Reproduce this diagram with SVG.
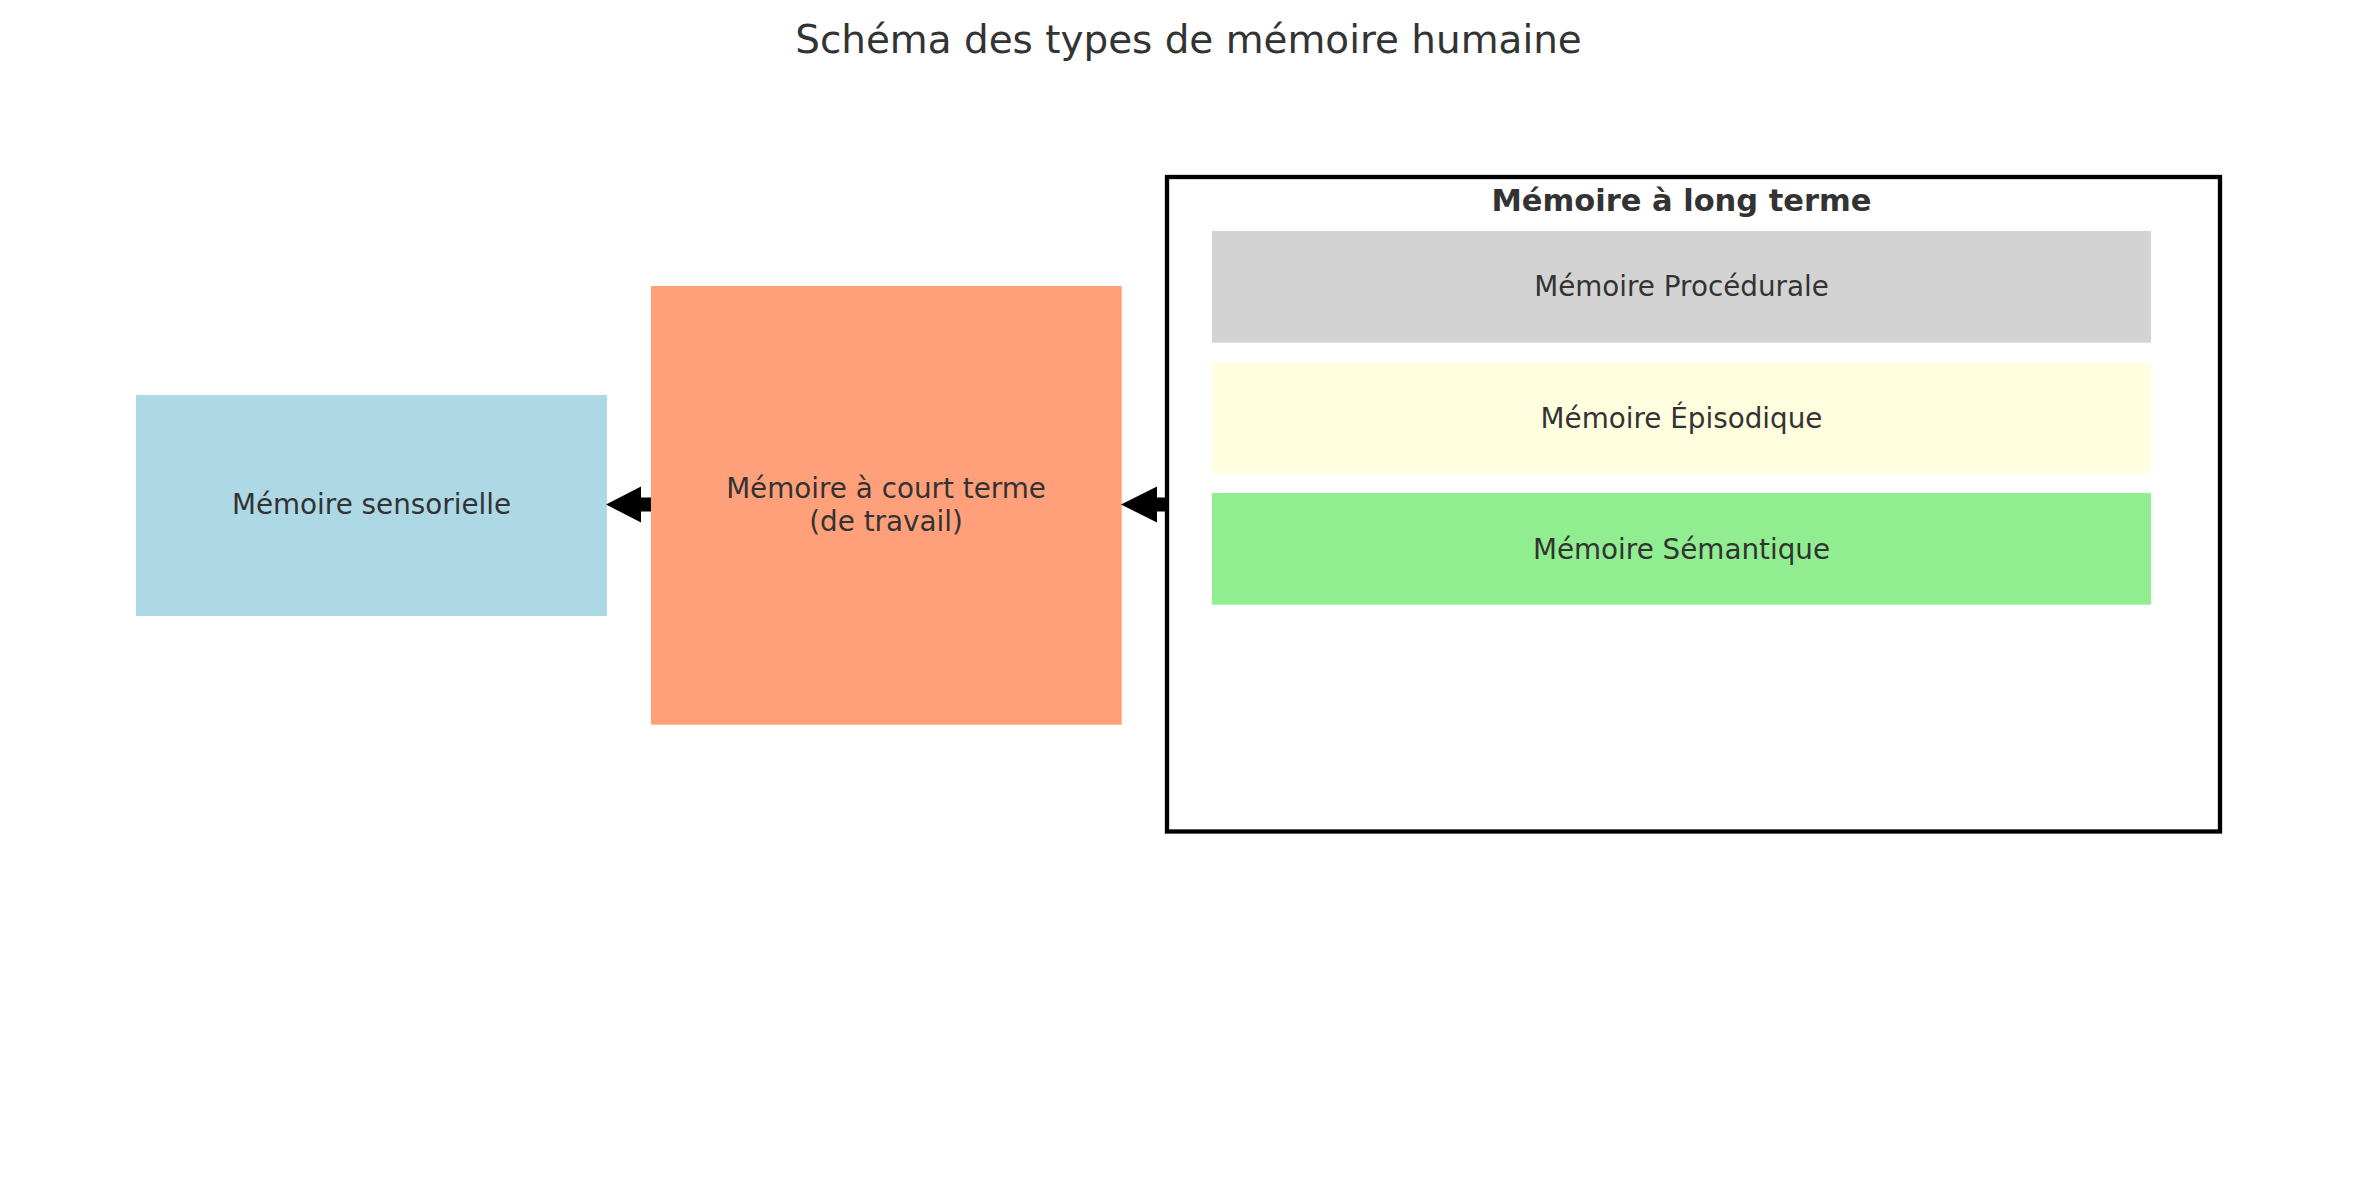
<svg xmlns="http://www.w3.org/2000/svg" width="2379" height="1180" viewBox="0 0 2379 1180">
<style>
text{font-family:"DejaVu Sans","Liberation Sans",sans-serif;fill:#333333;text-anchor:middle}
.lbl{font-size:27.8px}
.ttl{font-size:38.9px}
.bold{font-size:30.5px;font-weight:bold}
.arrow{fill:#000000;stroke:none}
</style>
<rect x="0" y="0" width="2379" height="1180" fill="#ffffff"/>
<text class="ttl" x="1188.5" y="53">Schéma des types de mémoire humaine</text>
<g id="sensory">
<rect x="136" y="395" width="471" height="221" fill="#add8e6"/>
<text class="lbl" x="371.5" y="513.5">Mémoire sensorielle</text>
</g>
<g id="short-term">
<rect x="651" y="286" width="470.7" height="438.7" fill="#ffa07a"/>
<text class="lbl" x="886" y="497.5">Mémoire à court terme</text>
<text class="lbl" x="886" y="530.5">(de travail)</text>
</g>
<g id="long-term">
<rect x="1167" y="177" width="1053" height="654.5" fill="#ffffff" stroke="#000000" stroke-width="4.3"/>
<text class="bold" x="1681.5" y="211">Mémoire à long terme</text>
</g>
<g id="procedural">
<rect x="1212" y="231" width="939" height="111.7" fill="#d3d3d3"/>
<text class="lbl" x="1681.5" y="296">Mémoire Procédurale</text>
</g>
<g id="episodic">
<rect x="1212" y="362.3" width="939" height="111.4" fill="#ffffe0"/>
<text class="lbl" x="1681.5" y="428">Mémoire Épisodique</text>
</g>
<g id="semantic">
<rect x="1212" y="493" width="939" height="111.7" fill="#90ee90"/>
<text class="lbl" x="1681.5" y="558.5">Mémoire Sémantique</text>
</g>
<g id="connectors">
<polygon class="arrow" points="651,497.5 641,497.5 641,486.5 606,504.5 641,522.5 641,511.5 651,511.5"/>
<polygon class="arrow" points="1167,497.5 1157,497.5 1157,486.5 1121,504.5 1157,522.5 1157,511.5 1167,511.5"/>
</g>
</svg>
